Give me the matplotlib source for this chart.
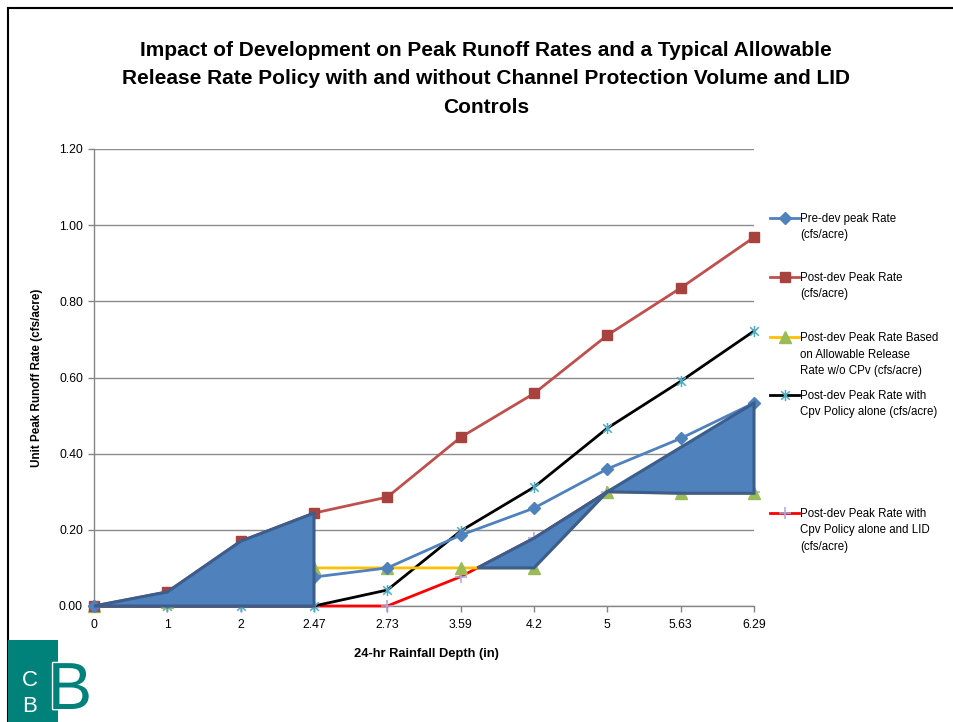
import matplotlib
matplotlib.use("Agg")
import matplotlib.pyplot as plt
import numpy as np
from matplotlib.lines import Line2D
from matplotlib.patches import Rectangle, Polygon
from matplotlib.path import Path
import matplotlib.patheffects as pe

plt.rcParams['font.family'] = ['Liberation Sans', 'DejaVu Sans']

# ---- data ----
depth_labels = ['0', '1', '2', '2.47', '2.73', '3.59', '4.2', '5', '5.63', '6.29']
pre_dev = [0.0, 0.01, 0.04, 0.076, 0.10, 0.186, 0.257, 0.36, 0.44, 0.533]
post_dev = [0.0, 0.037, 0.17, 0.244, 0.286, 0.443, 0.558, 0.711, 0.835, 0.968]
allow_no_cpv = [0.0, 0.01, 0.04, 0.10, 0.10, 0.10, 0.10, 0.30, 0.296, 0.296]
cpv_alone = [0.0, 0.0, 0.0, 0.0, 0.042, 0.197, 0.312, 0.467, 0.59, 0.722]
cpv_lid = [0.0, 0.0, 0.0, 0.0, 0.0, 0.077, 0.178, 0.30, 0.30, 0.30]

series_labels = [
    'Pre-dev peak Rate\n(cfs/acre)',
    'Post-dev Peak Rate\n(cfs/acre)',
    'Post-dev Peak Rate Based\non Allowable Release\nRate w/o CPv (cfs/acre)',
    'Post-dev Peak Rate with\nCpv Policy alone (cfs/acre)',
    'Post-dev Peak Rate with\nCpv Policy alone and LID\n(cfs/acre)',
]
y_ticks = [0.0, 0.2, 0.4, 0.6, 0.8, 1.0, 1.2]

W, H = 954, 722
fig = plt.figure(figsize=(W / 100, H / 100), dpi=100)
fig.patch.set_facecolor('white')

def fx(px):
    return px / W

def fy(py):
    return 1 - py / H

ax = fig.add_axes([fx(94), fy(606), fx(754) - fx(94), fy(149) - fy(606)])
x = np.arange(len(depth_labels))

star = Path([(-1, -1), (1, 1), (-1, 1), (1, -1), (0, -1.3), (0, 1.3)],
            [Path.MOVETO, Path.LINETO, Path.MOVETO, Path.LINETO, Path.MOVETO, Path.LINETO])

styles = [
    dict(color='#4F81BD', marker='D', ms=6, mfc='#4F81BD', mec='#4F81BD'),
    dict(color='#C0504D', marker='s', ms=7.5, mfc='#A8423F', mec='#A8423F'),
    dict(color='#FFC000', marker='^', ms=8, mfc='#9BBB59', mec='#9BBB59'),
    dict(color='black', marker=star, ms=8, mfc='none', mec='#4BACC6', mew=1.1),
    dict(color='#FF0000', marker='+', ms=8, mfc='none', mec='#A6A6DD', mew=1.1),
]
order = [cpv_lid, cpv_alone, allow_no_cpv, post_dev, pre_dev]
order_idx = [4, 3, 2, 1, 0]
for data, i in zip(order, order_idx):
    ax.plot(x, data, lw=2.0, clip_on=False, zorder=3 + (4 - i) * 0.1, **styles[i])

# shaded reduction areas
poly1 = [(x[k], post_dev[k]) for k in range(4)] + [(x[k], cpv_lid[k]) for k in range(3, -1, -1)]
t = (allow_no_cpv[5] - cpv_lid[5]) / (cpv_lid[6] - cpv_lid[5])
xi = x[5] + t
yi = allow_no_cpv[5]
poly2 = [(xi, yi), (x[6], cpv_lid[6]), (x[7], cpv_lid[7]), (x[9], pre_dev[9]),
         (x[9], allow_no_cpv[9]), (x[8], allow_no_cpv[8]), (x[7], allow_no_cpv[7]),
         (x[6], allow_no_cpv[6])]
for p in (poly1, poly2):
    ax.add_patch(Polygon(p, closed=True, facecolor='#4F81BD', edgecolor='#3B5E8C',
                         lw=2.2, joinstyle='miter', zorder=5, clip_on=False))

ax.set_xlim(0, 9)
ax.set_ylim(0, 1.2)
ax.set_xticks(x)
ax.set_xticklabels(depth_labels, fontsize=8.8)
ax.set_yticks(y_ticks)
ax.set_yticklabels([f'{v:.2f}' for v in y_ticks], fontsize=8.8)
ax.grid(axis='y', color='#8C8C8C', lw=1.0)
ax.set_axisbelow(True)
for s in ('top', 'right'):
    ax.spines[s].set_visible(False)
for s in ('left', 'bottom'):
    ax.spines[s].set_color('#868686')
    ax.spines[s].set_linewidth(1.0)
ax.tick_params(axis='both', colors='#868686', labelcolor='black', length=4, width=1.0)
ax.tick_params(axis='x', pad=5)
ax.tick_params(axis='y', pad=4)

# axis labels
fig.text(fx(426), fy(654), '24-hr Rainfall Depth (in)', fontsize=9.3, fontweight='bold',
         ha='center', va='center')
fig.text(fx(37), fy(378), 'Unit Peak Runoff Rate (cfs/acre)', fontsize=8.4, fontweight='bold',
         ha='center', va='center', rotation=90)

# title
fig.text(fx(486), fy(79),
         'Impact of Development on Peak Runoff Rates and a Typical Allowable\n'
         'Release Rate Policy with and without Channel Protection Volume and LID\n'
         'Controls', fontsize=15, fontweight='bold', ha='center', va='center',
         linespacing=1.65)

# legend (manual)
leg_y = [218, 277, 337, 395, 513]
for i, (lab, yy) in enumerate(zip(series_labels, leg_y)):
    st = dict(styles[i])
    fig.add_artist(Line2D([fx(770), fx(799)], [fy(yy), fy(yy)], lw=2.0, color=st['color']))
    st2 = {k: v for k, v in st.items() if k != 'color'}
    fig.add_artist(Line2D([fx(785)], [fy(yy)], lw=0, **st2))
    fig.text(fx(800), fy(yy - 5), lab, fontsize=8.3, ha='left', va='top',
             linespacing=1.5)

# frame lines
fig.add_artist(Line2D([fx(8), fx(8)], [0, fy(8)], color='black', lw=1.5))
fig.add_artist(Line2D([fx(8), 1], [fy(8), fy(8)], color='black', lw=1.5))

# logo
teal = '#00827B'
fig.add_artist(Rectangle((fx(8), 0), fx(58) - fx(8), fy(640), facecolor=teal,
                         edgecolor='none', transform=fig.transFigure, zorder=10))
fig.text(fx(30), fy(681), 'C', color='white', fontsize=16, ha='center', va='center', zorder=11)
fig.text(fx(30), fy(706), 'B', color='white', fontsize=16, ha='center', va='center', zorder=11)
fig.text(fx(70), fy(692), 'B', color=teal, fontsize=48, ha='center', va='center', zorder=12,
         path_effects=[pe.withStroke(linewidth=2, foreground='white')])

fig.savefig('out.png', dpi=100, facecolor='white')
